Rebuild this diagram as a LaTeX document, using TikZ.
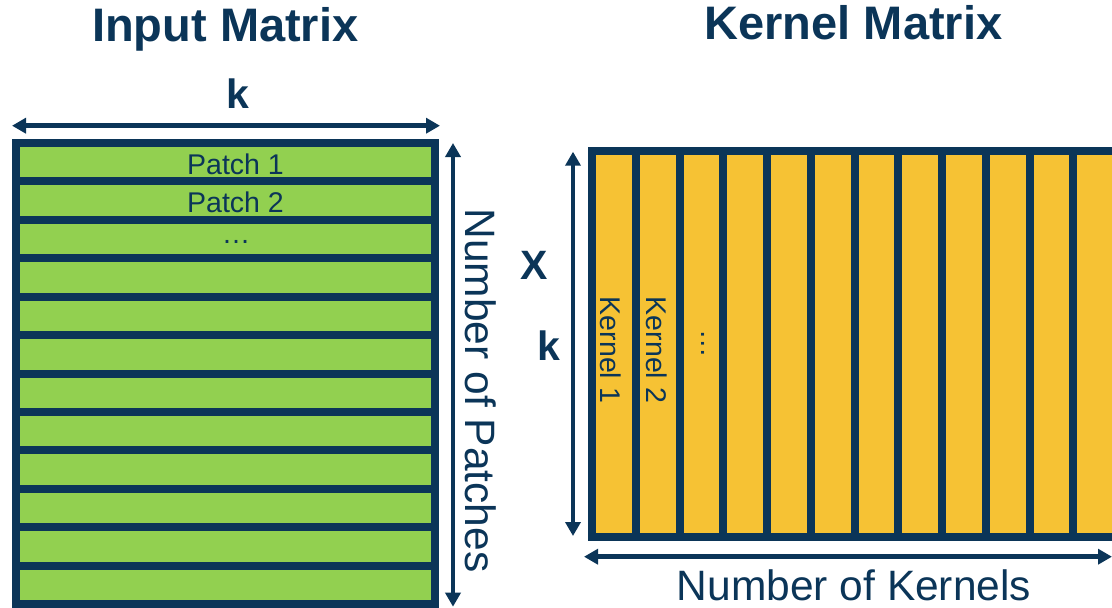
\documentclass[tikz,border=0pt]{standalone}
\usepackage{fontspec}
\setmainfont{Liberation Sans}
\usetikzlibrary{arrows.meta}
\definecolor{navy}{HTML}{0B3558}
\definecolor{cellgreen}{HTML}{92D050}
\definecolor{cellgold}{HTML}{F6C234}
\tikzset{
  rowcell/.style={draw=navy, fill=cellgreen, line width=8pt, rectangle, inner sep=0pt, outer sep=0pt,
    minimum width=418.5pt, minimum height=38.42pt},
  colcell/.style={draw=navy, fill=cellgold, line width=8pt, rectangle, inner sep=0pt, outer sep=0pt,
    minimum width=43.75pt, minimum height=385.5pt},
  dimarrow/.style={draw=navy, line width=4.5pt, {Triangle[length=14pt,width=15pt]}-{Triangle[length=14pt,width=15pt]}},
  titletext/.style={text=navy, font=\fontsize{47}{50}\selectfont\bfseries, anchor=base, inner sep=0pt},
  dimlabel/.style={text=navy, font=\fontsize{41}{44}\selectfont\bfseries, anchor=base, inner sep=0pt},
  bigtext/.style={text=navy, font=\fontsize{42.5}{45}\selectfont, anchor=base, inner sep=0pt},
  celltext/.style={text=navy, font=\fontsize{28.5}{30}\selectfont, anchor=base, inner sep=0pt}
}
\begin{document}
\begin{tikzpicture}[x=1pt,y=-1pt]
\path[use as bounding box] (0,0) rectangle (1112,608);
\clip (0,0) rectangle (1112,608);
% titles
\node[titletext] (tin) at (225.3,41.5) {Input Matrix};
\node[titletext] (tker) at (853.5,39.5) {Kernel Matrix};
% input matrix rows
\foreach \i in {1,...,12}{
  \node[rowcell] (r\i) at (225.25,{143+38.42*(\i-0.5)}) {};
}
\node[celltext] (p1) at (235.5,174) {Patch 1};
\node[celltext] (p2) at (235.5,212.7) {Patch 2};
\node[celltext] (pd) at (236,243.5) {…};
% kernel matrix columns
\foreach \j in {1,...,12}{
  \node[colcell] (c\j) at ({592+43.75*(\j-0.5)},343.75) {};
}
\node[celltext, rotate=-90] (k1) at (600.5,350) {Kernel 1};
\node[celltext, rotate=-90] (k2) at (646,350) {Kernel 2};
\node[celltext, rotate=-90] (kd) at (701.3,344) {…};
% dimension arrows
\coordinate (ka) at (12,125.7);
\coordinate (kb) at (440,125.7);
\draw[dimarrow] (ka) -- (kb);
\node[dimlabel] (klab) at (237.5,108) {k};
\coordinate (pa) at (453,143);
\coordinate (pb) at (453,606.7);
\draw[dimarrow] (pa) -- (pb);
\node[bigtext, rotate=-90] (plab) at (465,390.5) {Number of Patches};
\coordinate (xa) at (573,151.7);
\coordinate (xb) at (573,536);
\draw[dimarrow] (xa) -- (xb);
\node[dimlabel] (xlab) at (533.7,279) {X};
\node[dimlabel] (xklab) at (548.5,360.7) {k};
\coordinate (na) at (584,556.7);
\coordinate (nb) at (1112,556.7);
\draw[dimarrow] (na) -- (nb);
\node[bigtext] (nlab) at (854,600.7) {Number of Kernels};
\end{tikzpicture}
\end{document}
